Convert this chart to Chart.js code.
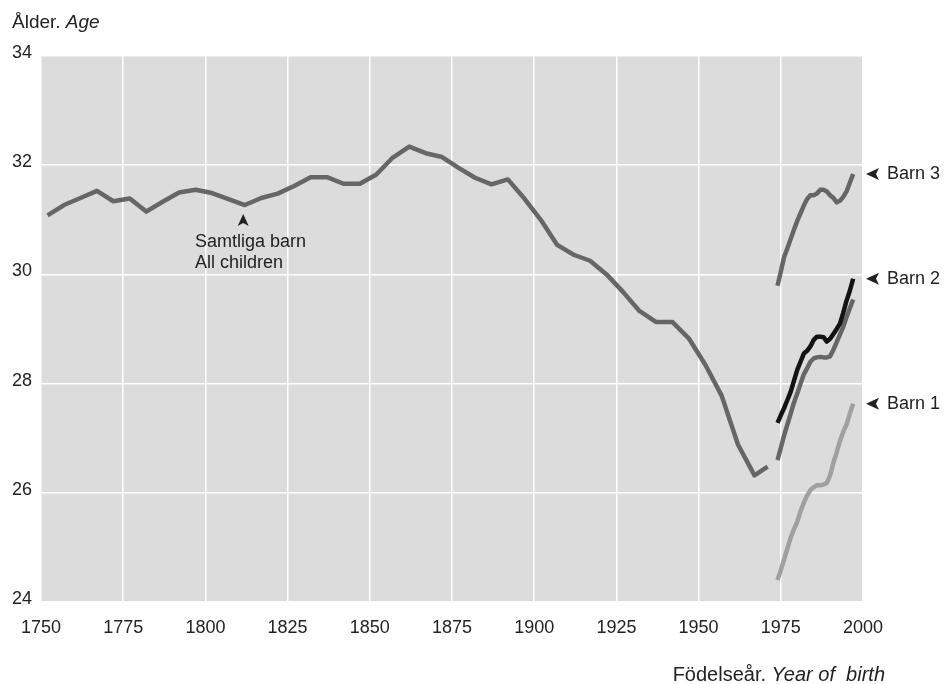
<!DOCTYPE html>
<html>
<head>
<meta charset="utf-8">
<script src="https://cdn.jsdelivr.net/npm/chart.js@4.4.1/dist/chart.umd.min.js"></script>
<style>
  html, body { margin: 0; padding: 0; background: #fff; }
  #wrap { width: 944px; height: 684px; position: relative; }
</style>
</head>
<body>
<div id="wrap"><canvas id="chart"></canvas></div>
<script>
// ---- data ----
const xTicks = [1750, 1775, 1800, 1825, 1850, 1875, 1900, 1925, 1950, 1975, 2000];
const yTicks = [24, 26, 28, 30, 32, 34];

// samtliga barn, historisk serie
const histYears = [1752, 1757, 1762, 1767, 1772, 1777, 1782, 1787, 1792, 1797,
  1802, 1807, 1812, 1817, 1822, 1827, 1832, 1837, 1842, 1847,
  1852, 1857, 1862, 1867, 1872, 1877, 1882, 1887, 1892, 1897,
  1902, 1907, 1912, 1917, 1922, 1927, 1932, 1937, 1942, 1947,
  1952, 1957, 1962, 1967, 1971];
const histAge = [31.08, 31.27, 31.40, 31.53, 31.34, 31.39, 31.15, 31.33, 31.50, 31.55,
  31.49, 31.38, 31.27, 31.40, 31.48, 31.62, 31.78, 31.78, 31.66, 31.66,
  31.83, 32.14, 32.34, 32.22, 32.15, 31.95, 31.77, 31.65, 31.74, 31.39,
  31.00, 30.54, 30.36, 30.25, 30.00, 29.68, 29.33, 29.13, 29.13, 28.83,
  28.35, 27.78, 26.88, 26.32, 26.48];

// från 1974: alla barn + barn 1-3
const recentYears = [1974, 1975, 1976, 1977, 1978, 1979, 1980, 1981, 1982, 1983,
  1984, 1985, 1986, 1987, 1988, 1989, 1990, 1991, 1992, 1993,
  1994, 1995, 1996, 1997];
const allRecent = [26.60, 26.82, 27.05, 27.25, 27.45, 27.65, 27.82, 28.00, 28.17, 28.28,
  28.40, 28.46, 28.48, 28.49, 28.48, 28.48, 28.50, 28.62, 28.76, 28.90,
  29.04, 29.22, 29.38, 29.54];
const barn1 = [24.40, 24.58, 24.78, 24.98, 25.18, 25.33, 25.47, 25.66, 25.82, 25.95,
  26.05, 26.10, 26.14, 26.14, 26.15, 26.18, 26.32, 26.55, 26.74, 26.95,
  27.12, 27.25, 27.45, 27.63];
const barn2 = [27.28, 27.42, 27.55, 27.70, 27.85, 28.05, 28.25, 28.40, 28.55, 28.60,
  28.68, 28.80, 28.86, 28.86, 28.85, 28.77, 28.82, 28.91, 29.00, 29.10,
  29.30, 29.52, 29.70, 29.92];
const barn3 = [29.79, 30.05, 30.32, 30.48, 30.65, 30.82, 30.98, 31.12, 31.26, 31.38,
  31.45, 31.45, 31.48, 31.55, 31.55, 31.52, 31.45, 31.40, 31.32, 31.35,
  31.42, 31.52, 31.68, 31.84];

const FONT = "'Liberation Sans', Arial, sans-serif";
const TXT = "#222";

function pts(xs, ys) {
  return xs.map((x, i) => ({ x, y: ys[i] }));
}

function arrowLeft(ctx, x, y) {
  // spetsig pil som pekar åt vänster
  ctx.beginPath();
  ctx.moveTo(x, y);
  ctx.lineTo(x + 13, y - 6);
  ctx.lineTo(x + 10, y);
  ctx.lineTo(x + 13, y + 6);
  ctx.closePath();
  ctx.fill();
}
function arrowUp(ctx, x, y) {
  ctx.beginPath();
  ctx.moveTo(x, y);
  ctx.lineTo(x + 5.5, y + 12);
  ctx.lineTo(x, y + 9);
  ctx.lineTo(x - 5.5, y + 12);
  ctx.closePath();
  ctx.fill();
}

const plotBg = {
  id: "plotBg",
  beforeDraw(chart) {
    const { ctx, chartArea: a } = chart;
    ctx.save();
    ctx.fillStyle = "#dcdcdc";
    ctx.fillRect(a.left, a.top, a.right - a.left, a.bottom - a.top);
    ctx.restore();
  }
};

const labels = {
  id: "labels",
  afterDraw(chart) {
    const { ctx } = chart;
    const xs = chart.scales.x, ys = chart.scales.y;
    ctx.save();
    ctx.fillStyle = TXT;
    ctx.textBaseline = "alphabetic";

    // y-axelns titel
    ctx.font = `19px ${FONT}`;
    ctx.textAlign = "left";
    ctx.fillText("Ålder.", 12, 28);
    const w = ctx.measureText("Ålder. ").width;
    ctx.font = `italic 19px ${FONT}`;
    ctx.fillText("Age", 12 + w, 28);

    // x-axelns titel (högerjusterad)
    ctx.font = `italic 20px ${FONT}`;
    const t2 = "Year of  birth";
    const w2 = ctx.measureText(t2).width;
    const right = 885;
    ctx.fillText(t2, right - w2, 681);
    ctx.font = `20px ${FONT}`;
    const t1 = "Födelseår. ";
    const w1 = ctx.measureText(t1).width;
    ctx.fillText(t1, right - w2 - w1, 681);

    // samtliga barn
    ctx.font = `18px ${FONT}`;
    const ax = xs.getPixelForValue(1811.5);
    const ay = ys.getPixelForValue(31.27) + 9;
    arrowUp(ctx, ax, ay);
    ctx.fillText("Samtliga barn", 195, 247);
    ctx.fillText("All children", 195, 268);

    // barn 1-3 vid seriens slut
    const endX = chart.chartArea.right + 3;
    [["Barn 3", barn3], ["Barn 2", barn2], ["Barn 1", barn1]].forEach(([name, arr]) => {
      const py = ys.getPixelForValue(arr[arr.length - 1]);
      arrowLeft(ctx, endX, py);
      ctx.textBaseline = "middle";
      ctx.fillText(name, endX + 21, py);
    });
    ctx.restore();
  }
};

Chart.defaults.font.family = FONT;
Chart.defaults.font.size = 18;
Chart.defaults.color = TXT;

const lineOpts = { borderWidth: 4.5, pointRadius: 0, tension: 0, fill: false, borderCapStyle: "butt", borderJoinStyle: "round" };

new Chart(document.getElementById("chart"), {
  type: "line",
  data: {
    datasets: [
      { label: "Barn 2", data: pts(recentYears, barn2), borderColor: "#131313", ...lineOpts },
      { label: "Barn 3", data: pts(recentYears, barn3), borderColor: "#666666", ...lineOpts },
      { label: "Samtliga barn (1974-)", data: pts(recentYears, allRecent), borderColor: "#666666", ...lineOpts },
      { label: "Barn 1", data: pts(recentYears, barn1), borderColor: "#a0a0a0", ...lineOpts },
      { label: "Samtliga barn", data: pts(histYears, histAge), borderColor: "#666666", ...lineOpts }
    ]
  },
  options: {
    responsive: true,
    maintainAspectRatio: false,
    animation: false,
    layout: { padding: { left: 0, top: 56, right: 81, bottom: 0 } },
    plugins: { legend: { display: false }, tooltip: { enabled: false } },
    scales: {
      x: {
        type: "linear",
        min: xTicks[0],
        max: xTicks[xTicks.length - 1],
        afterBuildTicks: (s) => { s.ticks = xTicks.map(v => ({ value: v })); },
        afterFit: (s) => { s.height = 82; },
        ticks: { padding: 15, color: TXT, font: { size: 18 }, callback: v => String(v), maxRotation: 0, autoSkip: false },
        grid: { color: "#ffffff", lineWidth: 1.5, drawTicks: false },
        border: { display: false }
      },
      y: {
        min: yTicks[0],
        max: yTicks[yTicks.length - 1],
        afterBuildTicks: (s) => { s.ticks = yTicks.map(v => ({ value: v })); },
        afterFit: (s) => { s.width = 41; },
        ticks: { padding: 9, labelOffset: -3, color: TXT, font: { size: 18 } },
        grid: { color: "#ffffff", lineWidth: 1.5, drawTicks: false },
        border: { display: false }
      }
    }
  },
  plugins: [plotBg, labels]
});
</script>
</body>
</html>
